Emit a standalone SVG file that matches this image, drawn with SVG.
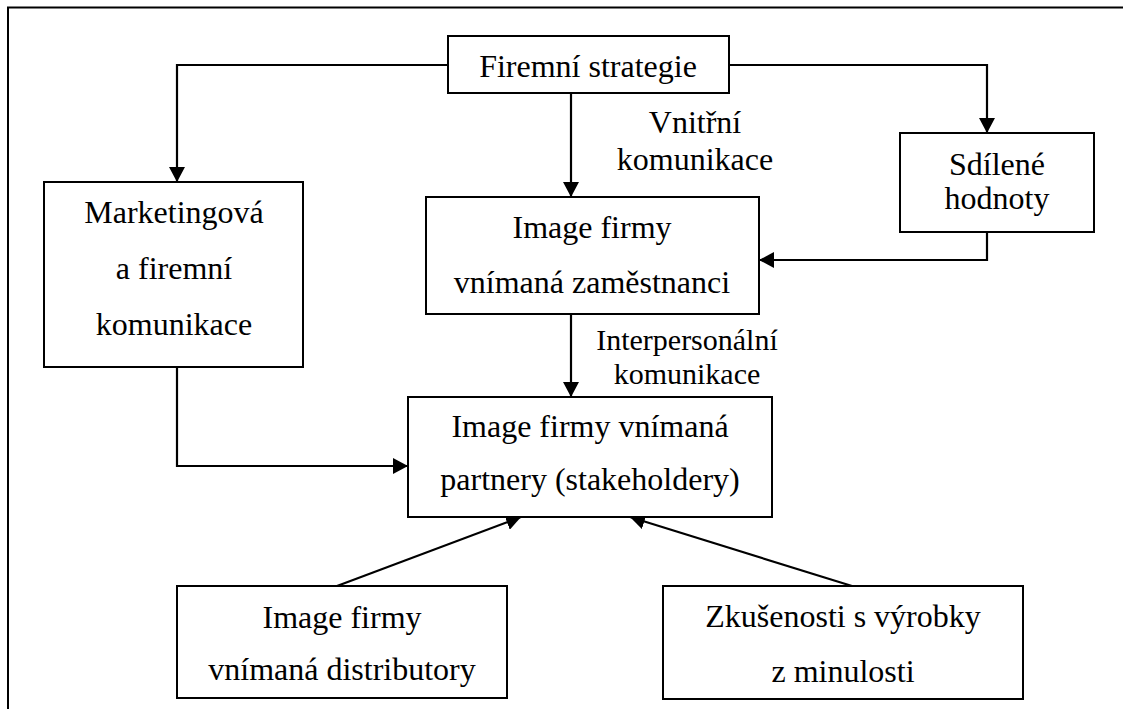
<svg xmlns="http://www.w3.org/2000/svg" width="1123" height="709" viewBox="0 0 1123 709">
<style>
.box{fill:#fff;stroke:#000;stroke-width:2}
.c{fill:none;stroke:#000;stroke-width:2.2}
text{font-family:'Liberation Serif','Times New Roman',serif;font-size:32px;fill:#000;text-anchor:middle}
.s{font-size:30px}
</style>
<defs>
<marker id="ah" markerUnits="userSpaceOnUse" markerWidth="16" markerHeight="16" refX="15" refY="8" orient="auto">
<path d="M0,0 L15,8 L0,16 z" fill="#000"/>
</marker>
</defs>
<rect width="1123" height="709" fill="#fff"/>
<path d="M8,709 L8,7.5 L1123,7.5" fill="none" stroke="#000" stroke-width="2"/>
<g id="connectors">
<path class="c" d="M448,65 L177,65 L177,182" marker-end="url(#ah)"/>
<path class="c" d="M729,65 L987,65 L987,133" marker-end="url(#ah)"/>
<path class="c" d="M571,93 L571,197" marker-end="url(#ah)"/>
<path class="c" d="M987,232 L987,260 L759,260" marker-end="url(#ah)"/>
<path class="c" d="M571,314 L571,397" marker-end="url(#ah)"/>
<path class="c" d="M177,367 L177,466 L408,466" marker-end="url(#ah)"/>
<path class="c" d="M337,586 L521,517" marker-end="url(#ah)"/>
<path class="c" d="M852,586 L630,517" marker-end="url(#ah)"/>
</g>
<g id="lbl-vnitrni">
<text x="695" y="133">Vnitřní</text>
<text x="695" y="170">komunikace</text>
</g>
<g id="lbl-interpersonalni">
<text class="s" x="687" y="350">Interpersonální</text>
<text class="s" x="687" y="384">komunikace</text>
</g>
<g id="n-strategie">
<rect class="box" x="448" y="36" width="281" height="57"/>
<text x="588" y="77">Firemní strategie</text>
</g>
<g id="n-marketing">
<rect class="box" x="44" y="182" width="259" height="185"/>
<text x="174" y="223">Marketingová</text>
<text x="174" y="279">a firemní</text>
<text x="174" y="335">komunikace</text>
</g>
<g id="n-zamestnanci">
<rect class="box" x="426" y="197" width="333" height="117"/>
<text x="592" y="238">Image firmy</text>
<text x="592" y="293">vnímaná zaměstnanci</text>
</g>
<g id="n-hodnoty">
<rect class="box" x="900" y="133" width="194" height="99"/>
<text x="997" y="175">Sdílené</text>
<text x="997" y="209">hodnoty</text>
</g>
<g id="n-partneri">
<rect class="box" x="408" y="397" width="364" height="120"/>
<text x="590" y="437">Image firmy vnímaná</text>
<text x="590" y="490">partnery (stakeholdery)</text>
</g>
<g id="n-distributori">
<rect class="box" x="177" y="586" width="330" height="112"/>
<text x="342" y="628">Image firmy</text>
<text x="342" y="680">vnímaná distributory</text>
</g>
<g id="n-zkusenosti">
<rect class="box" x="663" y="586" width="360" height="113"/>
<text x="843" y="627">Zkušenosti s výrobky</text>
<text x="843" y="682">z minulosti</text>
</g>
</svg>
